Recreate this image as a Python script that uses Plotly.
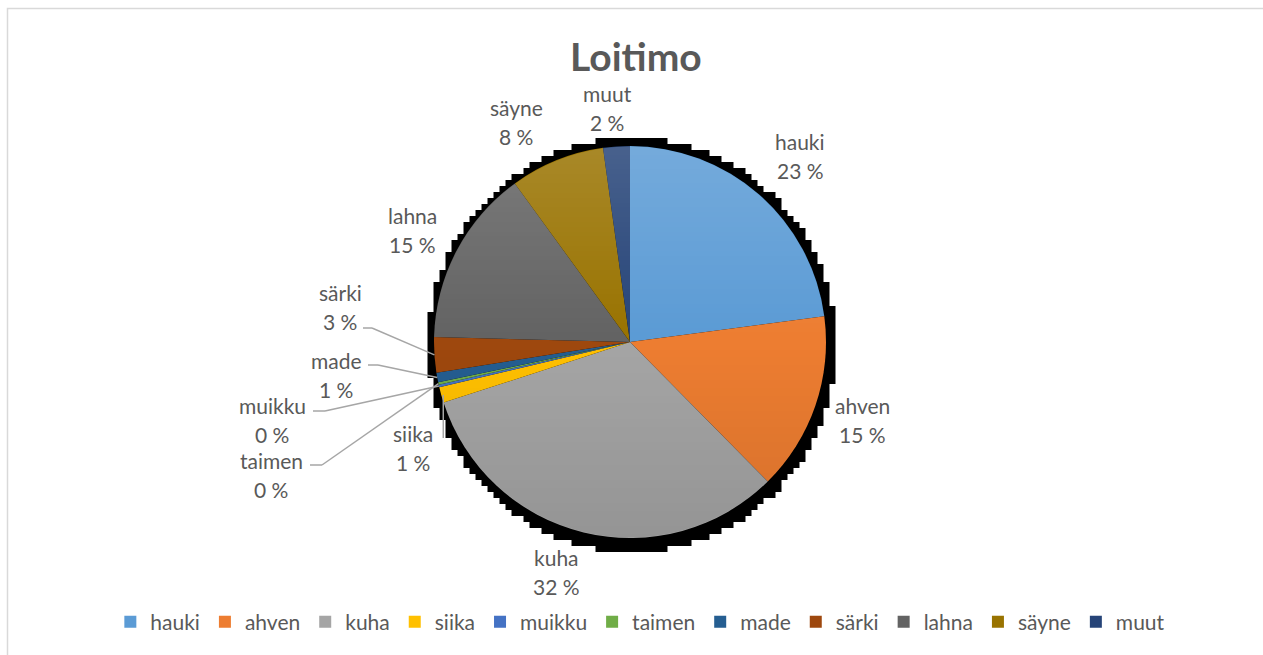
import math
import base64
import struct
import zlib

import numpy as np
import plotly.graph_objects as go

# ---- data -------------------------------------------------------------
species = ["hauki", "ahven", "kuha", "siika", "muikku", "taimen",
           "made", "särki", "lahna", "säyne", "muut"]
shares = [22.9, 14.7, 32.4, 1.3, 0.2, 0.2, 0.8, 2.9, 14.6, 7.8, 2.2]

# ---- style ------------------------------------------------------------
colors = ["#5B9BD5", "#ED7D31", "#A5A5A5", "#FFC000", "#4472C4", "#70AD47",
          "#255E91", "#9E480E", "#636363", "#997300", "#264478"]
TEXT = "#595959"
FONT = "Lato"

W, H = 1263, 655
CX, CY, R = 630, 342, 196          # pie centre / radius in pixels

# label block centres (pixels) for every slice
label_pos = {
    "hauki": (800, 156), "ahven": (862, 420), "kuha": (556, 572),
    "siika": (413, 448), "muikku": (272, 420), "taimen": (271, 475),
    "made": (336, 375), "särki": (340, 307), "lahna": (412, 230),
    "säyne": (516, 122), "muut": (607, 108),
}
# leader line start / elbow points (pixels) for the crowded small slices
leaders = {
    "särki": [(363, 328), (372, 328)],
    "made": [(368, 365), (378, 365)],
    "muikku": [(313, 411), (325, 411)],
    "taimen": [(310, 465), (322, 465)],
}


def px(x, y):
    return x / W, 1 - y / H


total = sum(shares)
pct_text = [f"{round(v / total * 100)} %" for v in shares]

# mid angle of each slice, clockwise from 12 o'clock
mid_angle = {}
acc = 0.0
for name, v in zip(species, shares):
    mid_angle[name] = (acc + v / 2) / total * 2 * math.pi
    acc += v


def edge_point(name, rr=R):
    a = mid_angle[name]
    return CX + rr * math.sin(a), CY - rr * math.cos(a)


def to_png(img):
    h, w = img.shape[:2]
    raw = b"".join(b"\x00" + img[i].tobytes() for i in range(h))

    def chunk(tag, data):
        body = tag + data
        return struct.pack(">I", len(data)) + body + struct.pack(">I", zlib.crc32(body) & 0xFFFFFFFF)

    png = (b"\x89PNG\r\n\x1a\n"
           + chunk(b"IHDR", struct.pack(">IIBBBBB", w, h, 8, 6, 0, 0, 0))
           + chunk(b"IDAT", zlib.compress(raw, 9))
           + chunk(b"IEND", b""))
    return "data:image/png;base64," + base64.b64encode(png).decode()


# soft vertical shading laid over the pie
def shading_png(size):
    yy, xx = np.mgrid[0:size, 0:size] + 0.5
    c = size / 2
    d = np.sqrt((xx - c) ** 2 + (yy - c) ** 2)
    inside = np.clip(c - d, 0, 1)
    t = yy / size
    white_a = np.clip((0.5 - t) / 0.5, 0, 1) * 0.16
    black_a = np.clip((t - 0.5) / 0.5, 0, 1) * 0.10
    rgb = np.where(t < 0.5, 255, 0).astype(np.uint8)
    alpha = ((white_a + black_a) * inside * 255).astype(np.uint8)
    return to_png(np.dstack([rgb, rgb, rgb, alpha]))


# blocky drop shadow behind the pie
SX, SY, SRX, SRY, STEP = 632, 345, 204.5, 207, 6


def shadow_png():
    w = int(2 * SRX + 2 * STEP)
    h = int(2 * SRY + 2 * STEP)
    nbx, nby = w // STEP + 1, h // STEP + 1
    by, bx = np.mgrid[0:nby, 0:nbx]
    cx = (bx + 0.5) * STEP - w / 2
    cy = (by + 0.5) * STEP - h / 2
    inside = ((cx / SRX) ** 2 + (cy / SRY) ** 2) <= 1.0
    mask = np.kron(inside, np.ones((STEP, STEP), dtype=bool))[:h, :w]
    img = np.zeros((h, w, 4), dtype=np.uint8)
    img[..., 3] = np.where(mask, 255, 0)
    return to_png(img), w, h


fig = go.Figure()
fig.add_trace(go.Pie(
    labels=species, values=shares, sort=False, direction="clockwise",
    rotation=0, marker=dict(colors=colors, line=dict(width=0)),
    textinfo="none", textposition="none", hoverinfo="skip",
    domain=dict(x=[(CX - R) / W, (CX + R) / W],
                y=[1 - (CY + R) / H, 1 - (CY - R) / H]),
))

shadow_src, sw, sh = shadow_png()
fig.add_layout_image(dict(
    source=shadow_src, xref="paper", yref="paper",
    x=(SX - sw / 2) / W, y=1 - (SY - sh / 2) / H, sizex=sw / W, sizey=sh / H,
    xanchor="left", yanchor="top", sizing="stretch", layer="below",
))
fig.add_layout_image(dict(
    source=shading_png(2 * R), xref="paper", yref="paper",
    x=(CX - R) / W, y=1 - (CY - R) / H, sizex=2 * R / W, sizey=2 * R / H,
    xanchor="left", yanchor="top", sizing="stretch", layer="above",
))

shapes = []
# outer frame
shapes.append(dict(type="rect", xref="paper", yref="paper", layer="below",
                   x0=7.5 / W, x1=1.02, y0=-0.02, y1=1 - 8.5 / H,
                   line=dict(color="#D9D9D9", width=1.5), fillcolor="rgba(0,0,0,0)"))

LEAD = dict(color="#A6A6A6", width=1.5)
for name, pts in leaders.items():
    path = pts + [edge_point(name)]
    for (x0, y0), (x1, y1) in zip(path[:-1], path[1:]):
        a0, b0 = px(x0, y0)
        a1, b1 = px(x1, y1)
        shapes.append(dict(type="line", xref="paper", yref="paper",
                           x0=a0, y0=b0, x1=a1, y1=b1, line=LEAD))
# siika leader drops straight down to its label
ex, ey = edge_point("siika")
a0, b0 = px(ex + 2, ey)
a1, b1 = px(ex + 2, 438)
shapes.append(dict(type="line", xref="paper", yref="paper",
                   x0=a0, y0=b0, x1=a1, y1=b1, line=LEAD))

annotations = []
for name, pct in zip(species, pct_text):
    lx, ly = label_pos[name]
    for txt, yy in ((name, ly - 14.5), (pct, ly + 14.5)):
        ax, ay = px(lx, yy)
        annotations.append(dict(text=txt, x=ax, y=ay, xref="paper", yref="paper",
                                xanchor="center", yanchor="middle", showarrow=False,
                                font=dict(family=FONT, size=21, color=TEXT)))

tx, ty = px(636, 56)
annotations.append(dict(text="<b>Loitimo</b>", x=tx, y=ty, xref="paper", yref="paper",
                        xanchor="center", yanchor="middle", showarrow=False,
                        font=dict(family=FONT, size=39, color=TEXT)))

fig.update_layout(
    width=W, height=H, margin=dict(l=0, r=0, t=0, b=0),
    paper_bgcolor="white", plot_bgcolor="white",
    shapes=shapes, annotations=annotations,
    showlegend=True,
    legend=dict(orientation="h", x=0.507, xanchor="center", y=1 - 622 / H,
                yanchor="middle", font=dict(family=FONT, size=21, color=TEXT),
                itemwidth=30, tracegroupgap=0, bgcolor="rgba(0,0,0,0)"),
)

fig.write_html("out.html")
